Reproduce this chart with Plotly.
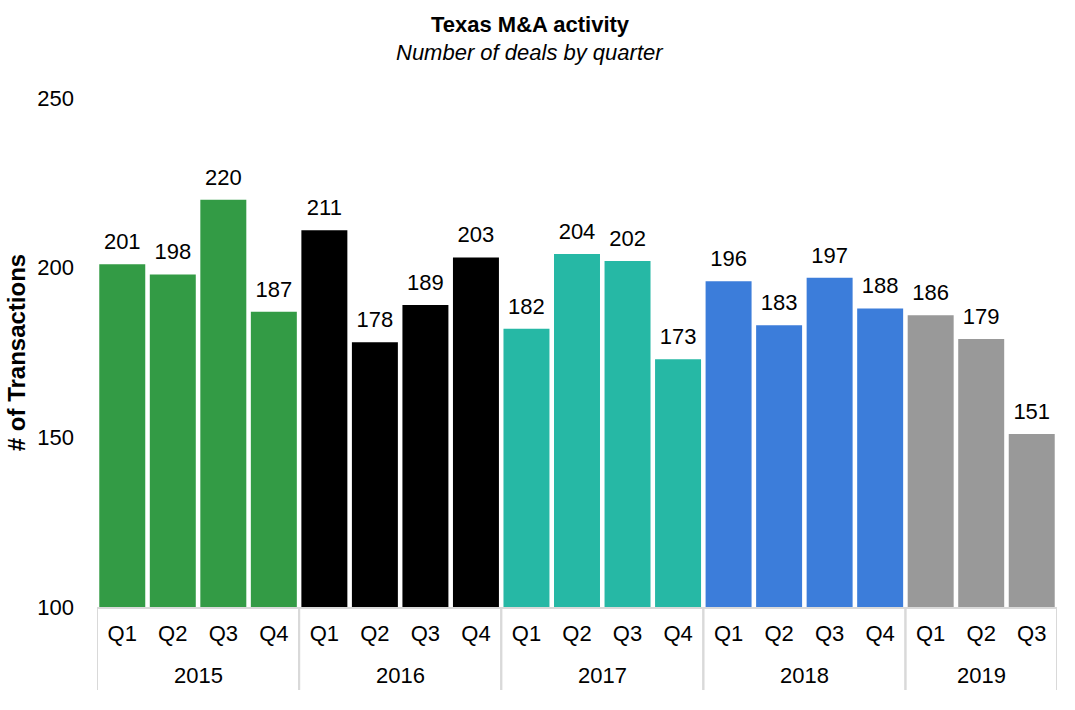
import plotly.graph_objects as go

years = ["2015"] * 4 + ["2016"] * 4 + ["2017"] * 4 + ["2018"] * 4 + ["2019"] * 3
quarters = ["Q1", "Q2", "Q3", "Q4"] * 4 + ["Q1", "Q2", "Q3"]
deals = [201, 198, 220, 187, 211, 178, 189, 203, 182, 204, 202, 173, 196, 183, 197, 188, 186, 179, 151]
year_colors = {"2015": "#339B45", "2016": "#000000", "2017": "#26B8A5", "2018": "#3C7DDA", "2019": "#999999"}

font_family = "Liberation Sans, Arial, sans-serif"
keys = [f"{y} {q}" for y, q in zip(years, quarters)]

fig = go.Figure()
fig.add_trace(go.Bar(
    x=keys,
    y=deals,
    marker=dict(color=[year_colors[y] for y in years], line=dict(width=0)),
    showlegend=False,
    hoverinfo="x+y",
))
# value labels
fig.add_trace(go.Scatter(
    x=keys,
    y=deals,
    mode="markers+text",
    marker=dict(size=14, color="rgba(0,0,0,0)"),
    text=[str(v) for v in deals],
    textposition="top center",
    textfont=dict(size=22, color="#000000", family=font_family),
    cliponaxis=False,
    showlegend=False,
    hoverinfo="skip",
))

# year groups: labels and dividers from the data
groups = []
for i, y in enumerate(years):
    if not groups or groups[-1][0] != y:
        groups.append([y, i, i])
    else:
        groups[-1][2] = i

plot_left, plot_right = 97, 1057
plot_top, plot_bottom = 98, 607
ph = plot_bottom - plot_top
pw = plot_right - plot_left

def py(pix):
    return (plot_bottom - pix) / ph

title_x = (530 - plot_left) / pw
annotations = [
    dict(text="<b>Texas M&A activity</b>", x=title_x, y=py(24), xref="paper", yref="paper",
         yanchor="middle", showarrow=False, font=dict(size=22, family=font_family)),
    dict(text="<i>Number of deals by quarter</i>", x=title_x, y=py(52), xref="paper", yref="paper",
         yanchor="middle", showarrow=False, font=dict(size=22, family=font_family)),
]

shapes = []
for y, s, e in groups:
    annotations.append(dict(text=y, x=(s + e) / 2, xref="x", y=py(675), yref="paper",
                            yanchor="middle", showarrow=False, font=dict(size=22, family=font_family)))
    for xb in (s - 0.5, e + 0.5):
        shapes.append(dict(type="line", xref="x", yref="paper", x0=xb, x1=xb, y0=0,
                           y1=py(690), line=dict(color="#D9D9D9", width=2)))

fig.update_layout(
    width=1075, height=710,
    margin=dict(l=plot_left, r=1075 - plot_right, t=plot_top, b=710 - plot_bottom, autoexpand=False),
    paper_bgcolor="white", plot_bgcolor="white",
    font=dict(family=font_family, color="#000000"),
    bargap=0.09,
    annotations=annotations,
    shapes=shapes,
    xaxis=dict(
        type="category",
        tickvals=keys, ticktext=quarters,
        showline=True, linecolor="#D9D9D9", linewidth=2,
        tickfont=dict(size=22, family=font_family),
        ticks="", ticklabelstandoff=6,
        showgrid=False, automargin=False,
        range=[-0.5, len(keys) - 0.5],
    ),
    yaxis=dict(
        range=[100, 250],
        tickvals=[100, 150, 200, 250],
        showgrid=False, zeroline=False, showline=False,
        tickfont=dict(size=22, family=font_family),
        ticklabelstandoff=22, automargin=False,
        title=dict(text="<b># of Transactions</b>", font=dict(size=24, family=font_family), standoff=4),
    ),
)

fig.write_html("out.html")
